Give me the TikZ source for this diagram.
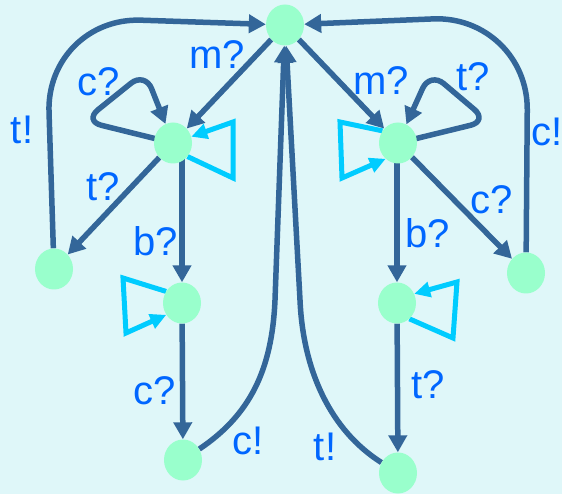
\documentclass[tikz,border=0pt]{standalone}
\usepackage{fontspec}
\setmainfont{Liberation Sans}
\usetikzlibrary{arrows.meta,shapes.geometric}
\definecolor{bgc}{HTML}{DFF7F9}
\definecolor{edgec}{HTML}{336699}
\definecolor{nodec}{HTML}{99FFCC}
\definecolor{loopc}{HTML}{00CCFF}
\definecolor{labc}{HTML}{0066FF}
\pgfdeclarelayer{bg}
\pgfdeclarelayer{edges}
\pgfsetlayers{bg,edges,main}
\tikzset{
  state/.style={ellipse, fill=nodec, minimum width=38pt, minimum height=41pt, inner sep=0pt},
  trans/.style={draw=edgec, line width=5.5pt, -{Triangle[length=17pt,width=18pt]}},
  selfloop/.style={draw=loopc, line width=5pt, -{Triangle[length=16pt,width=15pt]}},
  lab/.style={text=labc, font=\fontsize{40}{40}\selectfont, inner sep=0pt},
}
\begin{document}
\begin{tikzpicture}[x=1pt,y=-1pt]
\useasboundingbox (0,0) rectangle (562,494);
\begin{pgfonlayer}{bg}
  \fill[bgc] (0,0) rectangle (562,494);
\end{pgfonlayer}

\node[state] (T)  at (285,25) {};
\node[state] (L1) at (173,143) {};
\node[state] (R1) at (398,143) {};
\node[state] (LL) at (54,269) {};
\node[state] (RR) at (526,273) {};
\node[state] (L2) at (182,303) {};
\node[state] (R2) at (397,303) {};
\node[state] (L3) at (183,460) {};
\node[state] (R3) at (398,473) {};

\begin{pgfonlayer}{edges}
  \draw[trans] (T) -- (L1);
  \draw[trans] (T) -- (R1);
  \draw[trans, rounded corners=18pt] (L1.center) -- (84,121) -- (145,72) -- (L1);
  \draw[trans, rounded corners=18pt] (R1.center) -- (488,121) -- (430,72) -- (R1);
  \draw[trans] (L1) -- (LL);
  \draw[trans] (R1) -- (RR);
  \draw[trans] (L2 |- L1) -- (L2);
  \draw[trans] (R2 |- R1) -- (R2);
  \draw[trans] (L2) -- (L3);
  \draw[trans] (R2) -- (R3);
  \draw[trans, rounded corners=95pt] (LL) -- (46,17) -- (T);
  \draw[trans, rounded corners=95pt] (RR) -- (528,15) -- (T);
  \draw[trans] (L3) .. controls (250,415) and (272,370) .. (275,300) -- (T);
  \draw[trans] (R3) .. controls (330,430) and (303,370) .. (300,300) -- (T);

  \draw[selfloop] (L1.-43) -- (233,178) -- (233,122) -- (L1.19);
  \draw[selfloop] (R1.142) -- (340,122) -- (342,178) -- (R1.-128);
  \draw[selfloop] (L2.144) -- (123,278) -- (126,333) -- (L2.-143);
  \draw[selfloop] (R2.-52) -- (453,338) -- (457,282) -- (R2.28);
\end{pgfonlayer}

\node[lab] (lm1) at (217,55) {m?};
\node[lab] (lm2) at (381,81) {m?};
\node[lab] (lc1) at (99,82) {c?};
\node[lab] (lt1) at (473,77) {t?};
\node[lab] (lt2) at (22,130) {t!};
\node[lab] (lc2) at (547,132) {c!};
\node[lab] (lt3) at (103,187) {t?};
\node[lab] (lc3) at (492,200) {c?};
\node[lab] (lb1) at (156,241) {b?};
\node[lab] (lb2) at (428,233) {b?};
\node[lab] (lc4) at (155,391) {c?};
\node[lab] (lt4) at (428,385) {t?};
\node[lab] (lc5) at (248,441) {c!};
\node[lab] (lt5) at (325,447) {t!};
\end{tikzpicture}
\end{document}
